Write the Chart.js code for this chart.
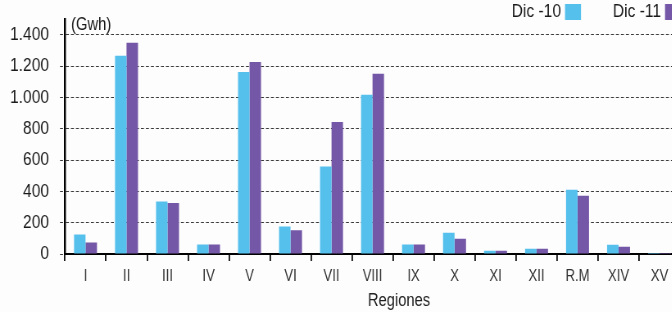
<!DOCTYPE html>
<html>
<head>
<meta charset="utf-8">
<script src="https://cdn.jsdelivr.net/npm/chart.js@4/dist/chart.umd.min.js"></script>
<style>
  html, body { margin: 0; padding: 0; overflow: hidden; background: #fdfdfd; width: 672px; height: 312px; }
  #wrap { position: absolute; left: 0; top: 0; width: 830px; height: 312px; transform: scaleX(0.8193); transform-origin: 0 0; }
</style>
</head>
<body>
<div id="wrap"><canvas id="c"></canvas></div>
<script>
const regions = ['I','II','III','IV','V','VI','VII','VIII','IX','X','XI','XII','R.M','XIV','XV'];
const dic10 = [125, 1265, 335, 60, 1162, 175, 558, 1016, 60, 136, 21, 34, 410, 59, 7];
const dic11 = [73, 1348, 325, 60, 1226, 152, 843, 1150, 60, 98, 21, 34, 372, 47, 7];
const seriesNames = ['Dic -10', 'Dic -11'];
const yTicks = [0, 200, 400, 600, 800, 1000, 1200, 1400];
const unitLabel = '(Gwh)';
const xTitle = 'Regiones';

// The page is drawn wide and squeezed horizontally (narrow-font look)
const S = 0.8193;
const FONT = "'Liberation Sans', Arial, sans-serif";
const BLUE = 'rgb(86,192,237)';
const PURPLE = 'rgb(116,87,166)';

const overlay = {
  id: 'overlay',
  afterDraw(chart) {
    const ctx = chart.ctx;
    ctx.save();
    ctx.fillStyle = '#1a1a1a';
    ctx.font = "18px " + FONT;
    ctx.textBaseline = 'middle';
    ctx.textAlign = 'left';
    ctx.fillText(unitLabel, chart.chartArea.left + 6 / S, 25);
    // axis title, placed as in the original (right of centre)
    ctx.textAlign = 'center';
    ctx.fillStyle = '#222';
    ctx.fillText(xTitle, 399 / S, 301);
    ctx.font = "19px " + FONT;
    ctx.textAlign = 'right';
    const legendItems = [
      { text: seriesNames[0], color: BLUE, boxX: 565 / S },
      { text: seriesNames[1], color: PURPLE, boxX: 665 / S }
    ];
    legendItems.forEach(it => {
      ctx.fillStyle = '#1a1a1a';
      ctx.fillText(it.text, it.boxX - 4 / S, 12);
      ctx.fillStyle = it.color;
      ctx.fillRect(it.boxX, 4, 16 / S, 16);
    });
    ctx.restore();
  }
};

new Chart(document.getElementById('c'), {
  type: 'bar',
  data: {
    labels: regions,
    datasets: [
      { label: seriesNames[0], data: dic10, backgroundColor: BLUE },
      { label: seriesNames[1], data: dic11, backgroundColor: PURPLE }
    ]
  },
  options: {
    responsive: true,
    maintainAspectRatio: false,
    animation: false,
    layout: { padding: { top: 19, right: 0, left: 0, bottom: 0 } },
    datasets: { bar: { categoryPercentage: 0.56, barPercentage: 1.0 } },
    plugins: { legend: { display: false }, tooltip: { enabled: false } },
    scales: {
      x: {
        grid: { display: true, drawOnChartArea: false, drawTicks: true, tickLength: 7, color: '#111', lineWidth: 1.5 / S, offset: true },
        border: { display: true, color: '#000', width: 2 },
        ticks: { color: '#333', font: { family: FONT, size: 16 }, padding: 6, maxRotation: 0, autoSkip: false },
        title: { display: false, text: xTitle },
        afterFit(scale) { scale.height = 58; scale.paddingLeft = 0; scale.paddingRight = 0; }
      },
      y: {
        min: 0,
        max: 1500,
        afterBuildTicks(scale) { scale.ticks = yTicks.concat([1500]).map(v => ({ value: v })); },
        grid: {
          color: ctx => (ctx.tick && ctx.tick.value === 1500) ? 'rgba(0,0,0,0)' : '#3a3a3a',
          lineWidth: 1,
          tickLength: 5 / S,
          tickBorderDash: [3 / S, 2 / S],
          drawTicks: true
        },
        border: { display: true, color: '#000', width: 2 / S, dash: [3 / S, 2 / S] },
        ticks: {
          color: '#1a1a1a',
          font: { family: FONT, size: 19 },
          padding: 11 / S,
          callback: v => v === 1500 ? '' : v.toLocaleString('de-DE')
        },
        afterFit(scale) { scale.width = 65 / S; scale.paddingTop = 0; scale.paddingBottom = 0; }
      }
    }
  },
  plugins: [overlay]
});
</script>
</body>
</html>
